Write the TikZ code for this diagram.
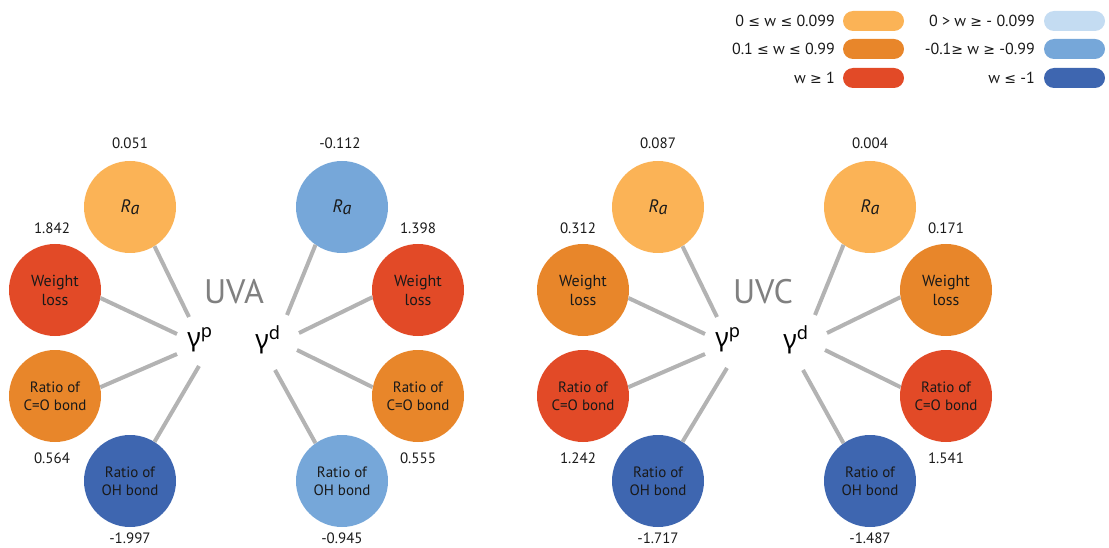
\documentclass[tikz,border=0pt]{standalone}
\usepackage{fontspec}
\setmainfont{PT Sans}
\newfontfamily\grk{Noto Sans}
\newfontfamily\symf{DejaVu Sans}
\definecolor{lor}{HTML}{FBB356}
\definecolor{mor}{HTML}{E8862A}
\definecolor{dred}{HTML}{E24A27}
\definecolor{lbl}{HTML}{C4DCF2}
\definecolor{mbl}{HTML}{76A7D9}
\definecolor{dbl}{HTML}{3E66B0}
\definecolor{lgray}{HTML}{B3B3B3}
\definecolor{tgray}{HTML}{808080}
\tikzset{
  bub/.style={circle, inner sep=0pt, minimum size=92pt, text=black!90, align=center},
  wl/.style={font=\fontsize{16}{19}\selectfont},
  rt/.style={font=\fontsize{15}{18}\selectfont},
  ra/.style={font=\fontsize{18}{20}\selectfont\itshape},
  val/.style={font=\fontsize{15}{18}\selectfont, text=black!90},
  lnk/.style={draw=lgray, line width=4pt},
  gam/.style={font=\grk\fontsize{26}{30}\selectfont, inner sep=0pt},
  ttl/.style={font=\fontsize{34}{40}\selectfont, text=tgray, inner sep=0pt},
  pill/.style={rounded corners=10pt, minimum width=61pt, minimum height=20pt, inner sep=0pt},
  leg/.style={font=\fontsize{16}{19}\selectfont, anchor=east, inner sep=0pt, text=black!90}
}
\newcommand{\Ra}{R\raisebox{-2.5pt}{a}}
\newcommand{\Leq}{{\symf\fontsize{14}{16}\selectfont ≤}}
\newcommand{\Geq}{{\symf\fontsize{14}{16}\selectfont ≥}}
\begin{document}
\begin{tikzpicture}[x=1pt,y=-1pt]
\useasboundingbox (0,0) rectangle (1109,548);

% ---------- legend ----------
\node[pill, fill=lor] (p1) at (873.5,21) {};
\node[pill, fill=mor] (p2) at (873.5,49) {};
\node[pill, fill=dred] (p3) at (873.5,78) {};
\node[pill, fill=lbl] (p4) at (1074.5,21) {};
\node[pill, fill=mbl] (p5) at (1074.5,49) {};
\node[pill, fill=dbl] (p6) at (1074.5,78) {};
\node[leg] (l1) at (835,21) {0 \Leq{} w \Leq{} 0.099};
\node[leg] (l2) at (835,49) {0.1 \Leq{} w \Leq{} 0.99};
\node[leg] (l3) at (835,78) {w \Geq{} 1};
\node[leg] (l4) at (1035,21) {0 > w \Geq{} - 0.099};
\node[leg] (l5) at (1035,49) {-0.1\Geq{} w \Geq{} -0.99};
\node[leg] (l6) at (1035,78) {w \Leq{} -1};

% ---------- UVA ----------
\node[ttl] (uva) at (234,292) {UVA};
\node[gam] (ap) at (200,340) {γ\textsuperscript{p}};
\node[gam] (ad) at (268,340) {γ\textsuperscript{d}};

\node[bub, fill=lor, ra] (ara) at (130,207) {\Ra};
\node[bub, fill=dred, wl] (awl) at (55,290) {Weight\\loss};
\node[bub, fill=mor, rt] (aco) at (55,396) {Ratio of\\C=O bond};
\node[bub, fill=dbl, rt] (aoh) at (130,481) {Ratio of\\OH bond};
\node[bub, fill=mbl, ra] (bra) at (342,207) {\Ra};
\node[bub, fill=dred, wl] (bwl) at (418,290) {Weight\\loss};
\node[bub, fill=mor, rt] (bco) at (418,396) {Ratio of\\C=O bond};
\node[bub, fill=mbl, rt] (boh) at (342,481) {Ratio of\\OH bond};

\node[val] (va1) at (130,143) {0.051};
\node[val] (va2) at (52,228) {1.842};
\node[val] (va3) at (52,458) {0.564};
\node[val] (va4) at (130,538) {-1.997};
\node[val] (vb1) at (340,143) {-0.112};
\node[val] (vb2) at (418,228) {1.398};
\node[val] (vb3) at (418,458) {0.555};
\node[val] (vb4) at (342,538) {-0.945};

\coordinate (ae1) at (189,317);
\coordinate (ae2) at (177,334);
\coordinate (ae3) at (177,354);
\coordinate (ae4) at (199,366);
\coordinate (be1) at (287,315);
\coordinate (be2) at (299,333);
\coordinate (be3) at (297,350);
\coordinate (be4) at (275,370);
\draw[lnk] (ara.-58) -- (ae1);
\draw[lnk] (awl.-10) -- (ae2);
\draw[lnk] (aco.11) -- (ae3);
\draw[lnk] (aoh.58) -- (ae4);
\draw[lnk] (bra.-125) -- (be1);
\draw[lnk] (bwl.-171) -- (be2);
\draw[lnk] (bco.169) -- (be3);
\draw[lnk] (boh.125) -- (be4);

% ---------- UVC ----------
\node[ttl] (uvc) at (763,292) {UVC};
\node[gam] (cp) at (728,340) {γ\textsuperscript{p}};
\node[gam] (cd) at (796,340) {γ\textsuperscript{d}};

\node[bub, fill=lor, ra] (cra) at (658,207) {\Ra};
\node[bub, fill=mor, wl] (cwl) at (583,290) {Weight\\loss};
\node[bub, fill=dred, rt] (cco) at (583,396) {Ratio of\\C=O bond};
\node[bub, fill=dbl, rt] (coh) at (658,481) {Ratio of\\OH bond};
\node[bub, fill=lor, ra] (dra) at (870,207) {\Ra};
\node[bub, fill=mor, wl] (dwl) at (946,290) {Weight\\loss};
\node[bub, fill=dred, rt] (dco) at (946,396) {Ratio of\\C=O bond};
\node[bub, fill=dbl, rt] (doh) at (870,481) {Ratio of\\OH bond};

\node[val] (vc1) at (658,143) {0.087};
\node[val] (vc2) at (578,228) {0.312};
\node[val] (vc3) at (578,458) {1.242};
\node[val] (vc4) at (658,538) {-1.717};
\node[val] (vd1) at (870,143) {0.004};
\node[val] (vd2) at (946,228) {0.171};
\node[val] (vd3) at (946,458) {1.541};
\node[val] (vd4) at (870,538) {-1.487};

\coordinate (ce1) at (717,317);
\coordinate (ce2) at (705,334);
\coordinate (ce3) at (705,354);
\coordinate (ce4) at (727,368);
\coordinate (de1) at (815,315);
\coordinate (de2) at (827,333);
\coordinate (de3) at (825,350);
\coordinate (de4) at (803,370);
\draw[lnk] (cra.-58) -- (ce1);
\draw[lnk] (cwl.-10) -- (ce2);
\draw[lnk] (cco.11) -- (ce3);
\draw[lnk] (coh.58) -- (ce4);
\draw[lnk] (dra.-125) -- (de1);
\draw[lnk] (dwl.-171) -- (de2);
\draw[lnk] (dco.169) -- (de3);
\draw[lnk] (doh.125) -- (de4);
\end{tikzpicture}
\end{document}
